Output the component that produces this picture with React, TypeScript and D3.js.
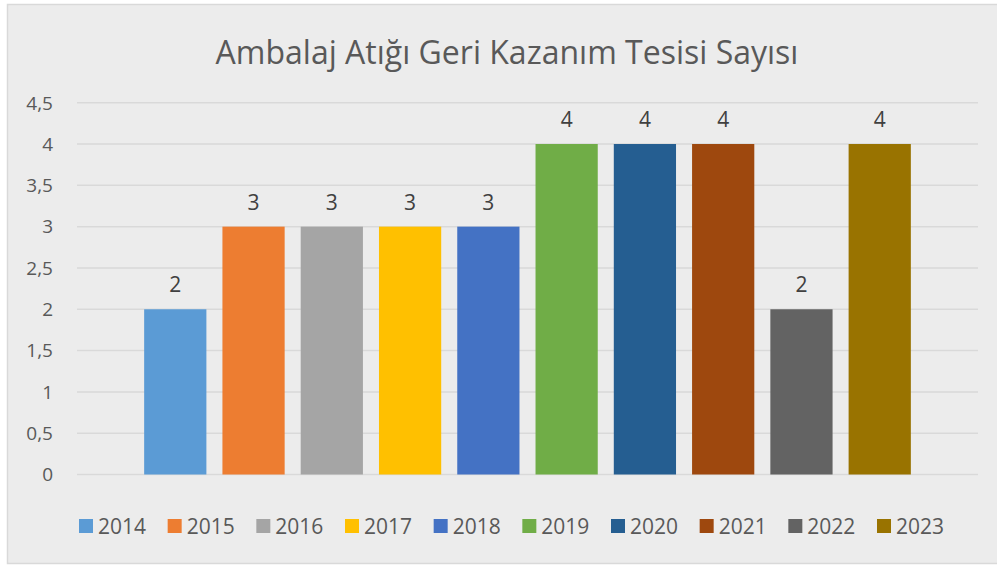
import React from "react";
import * as d3 from "d3";

const title = "Ambalaj Atığı Geri Kazanım Tesisi Sayısı";
const years = ["2014", "2015", "2016", "2017", "2018", "2019", "2020", "2021", "2022", "2023"];
const values = [2, 3, 3, 3, 3, 4, 4, 4, 2, 4];
const colors = ["#5B9BD5", "#ED7D31", "#A5A5A5", "#FFC000", "#4472C4", "#70AD47", "#255E91", "#9E480E", "#636363", "#997300"];
const yTicks = [0, 0.5, 1, 1.5, 2, 2.5, 3, 3.5, 4, 4.5];

const W = 997;
const H = 566;
const plot = { left: 77, right: 978, top: 102.7, bottom: 474.5 };
const FONT = "'Open Sans', 'Noto Sans', sans-serif";

export default function App() {
  const x = d3
    .scaleBand<string>()
    .domain(years)
    .range([plot.left, plot.right])
    .paddingInner(0.205)
    .paddingOuter(0.858);
  const y = d3.scaleLinear().domain([0, 4.5]).range([plot.bottom, plot.top]);
  const fmt = (v: number) => String(v).replace(".", ",");

  const legendX = d3.scaleLinear().domain([0, years.length - 1]).range([79, 877]);

  return (
    <svg width={W} height={H} style={{ position: "absolute", left: 0, top: 0, display: "block" }}>
      <rect x={0} y={0} width={W} height={H} fill="#ffffff" />
      <rect x={7.5} y={4.5} width={W + 10} height={559} fill="#ececec" stroke="#d9d9d9" strokeWidth={1.5} />
      <text x={507} y={64} textAnchor="middle" fontFamily={FONT} fontSize={32} fill="#595959">
        {title}
      </text>
      {yTicks.map((t) => (
        <g key={t}>
          <line x1={plot.left} x2={plot.right} y1={y(t)} y2={y(t)} stroke="#d9d9d9" strokeWidth={1.5} />
          <text x={53} y={y(t)} dy="0.36em" textAnchor="end" fontFamily={FONT} fontSize={19} fill="#595959">
            {fmt(t)}
          </text>
        </g>
      ))}
      {years.map((yr, i) => (
        <g key={yr}>
          <rect
            x={x(yr)}
            y={y(values[i])}
            width={x.bandwidth()}
            height={y(0) - y(values[i])}
            fill={colors[i]}
          />
          <text
            x={(x(yr) as number) + x.bandwidth() / 2}
            y={y(values[i]) - 17}
            textAnchor="middle"
            fontFamily={FONT}
            fontSize={21}
            fill="#404040"
          >
            {values[i]}
          </text>
        </g>
      ))}
      {years.map((yr, i) => (
        <g key={"lg" + yr} transform={`translate(${legendX(i)},0)`}>
          <rect x={0} y={519} width={14} height={14} fill={colors[i]} />
          <text x={19} y={533.5} fontFamily={FONT} fontSize={21} fill="#595959">
            {yr}
          </text>
        </g>
      ))}
    </svg>
  );
}
